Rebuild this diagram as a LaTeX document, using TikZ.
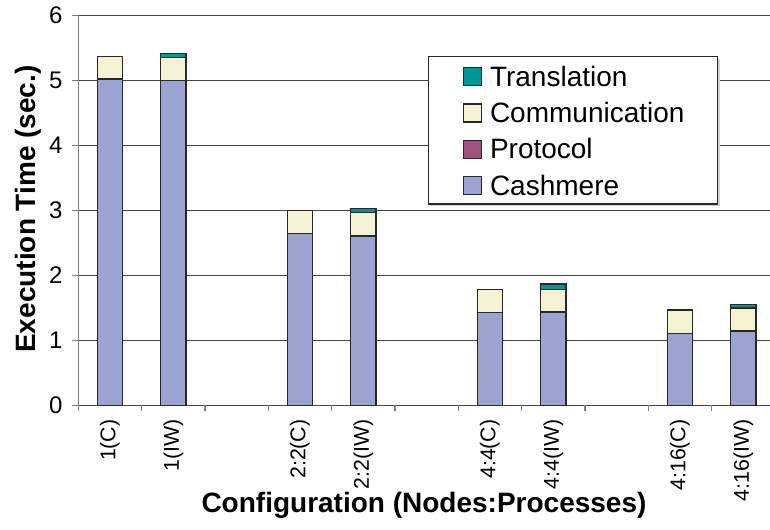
\documentclass[tikz,border=0pt]{standalone}
\usepackage{fontspec}
\setmainfont{Liberation Sans}

\definecolor{cashmere}{RGB}{154,163,209}
\definecolor{communication}{RGB}{246,243,213}
\definecolor{protocol}{RGB}{160,82,128}
\definecolor{translation}{RGB}{0,150,152}
\definecolor{gridgray}{RGB}{70,70,70}
\definecolor{axisgray}{RGB}{125,125,125}
\definecolor{bardark}{RGB}{40,40,40}

\tikzset{every picture/.style={line width=0.75pt}}
\tikzset{
  grid line/.style={draw=gridgray, line width=0.9pt},
  axis line/.style={draw=axisgray, line width=1.1pt},
  bar/.style={draw=bardark, line width=0.8pt},
  tick label/.style={inner sep=0pt, font=\fontsize{18}{20}\selectfont},
  cat label/.style={inner sep=0pt, rotate=90, font=\fontsize{16}{18}\selectfont},
  axis title/.style={inner sep=0pt, font=\fontsize{21}{24}\selectfont\bfseries},
  legend text/.style={inner sep=0pt, font=\fontsize{21}{24}\selectfont},
  swatch/.style={draw=bardark, line width=0.8pt}
}

\begin{document}
\begin{tikzpicture}[x=0.75pt,y=0.75pt,yscale=-1,xscale=1]
	\useasboundingbox (0,0) rectangle (770,529);
	
	%Gridlines
	\foreach \v in {1,...,6}
		\draw[grid line] (78.3,{405.3-65*\v}) -- (770,{405.3-65*\v});
	
	%Y axis with ticks and labels
	\foreach \v in {0,...,6} {
		\draw[axis line] (72.3,{405.3-65*\v}) -- (78.3,{405.3-65*\v});
		\node[tick label, anchor=east] (ytick\v) at (63,{405.3-65*\v}) {\v};
	}
	\draw[axis line] (78.3,405.3) -- (78.3,15.3);
	
	%X axis with ticks
	\draw[draw=gridgray, line width=1.1pt] (78.3,405.3) -- (770,405.3);
	\foreach \k in {0,...,10}
		\draw[axis line] ({78.3+63.33*\k},405.3) -- ({78.3+63.33*\k},411.3);
	
	%Stacked bars: slot / cashmere / protocol / communication / translation (cumulative)
	\foreach \i/\c/\p/\m/\t/\lab in {1/5.02/5.02/5.37/5.37/1(C),
			2/4.99/5.00/5.354/5.415/1(IW),
			4/2.646/2.646/3.00/3.00/2:2(C),
			5/2.60/2.61/2.97/3.03/2:2(IW),
			7/1.43/1.43/1.785/1.785/4:4(C),
			8/1.425/1.435/1.785/1.866/4:4(IW),
			10/1.11/1.11/1.466/1.466/4:16(C),
			11/1.143/1.153/1.497/1.554/4:16(IW)} {
		\pgfmathsetmacro{\xc}{78.3+63.33*(\i-0.5)}
		\draw[bar, fill=cashmere] ({\xc-12.7},405.3) rectangle ({\xc+12.7},{405.3-65*\c});
		\draw[bar, fill=protocol] ({\xc-12.7},{405.3-65*\c}) rectangle ({\xc+12.7},{405.3-65*\p});
		\draw[bar, fill=communication] ({\xc-12.7},{405.3-65*\p}) rectangle ({\xc+12.7},{405.3-65*\m});
		\draw[bar, fill=translation] ({\xc-12.7},{405.3-65*\m}) rectangle ({\xc+12.7},{405.3-65*\t});
		\node[cat label, anchor=east] (cat\i) at (\xc,419) {\lab};
	}
	
	%Legend
	\fill[axisgray!35] (430.3,58.7) rectangle (719.7,206);
	\draw[draw=bardark, fill=white, line width=0.8pt] (428.3,56.7) rectangle (717.7,204);
	\foreach \r/\col/\txt in {0/translation/Translation,1/communication/Communication,2/protocol/Protocol,3/cashmere/Cashmere} {
		\draw[swatch, fill=\col] (463.3,{76.7+36.3*\r-9}) rectangle (481.7,{76.7+36.3*\r+9});
		\node[legend text, anchor=base west] (leg\r) at (489.5,{76.7+36.3*\r+9.5}) {\txt};
	}
	
	% Axis titles
	\node[axis title, rotate=90, anchor=base] (ytitle) at (35,209) {Execution Time (sec.)};
	\node[axis title, anchor=base] (xtitle) at (424,512) {Configuration (Nodes:Processes)};
	
\end{tikzpicture}
\end{document}
